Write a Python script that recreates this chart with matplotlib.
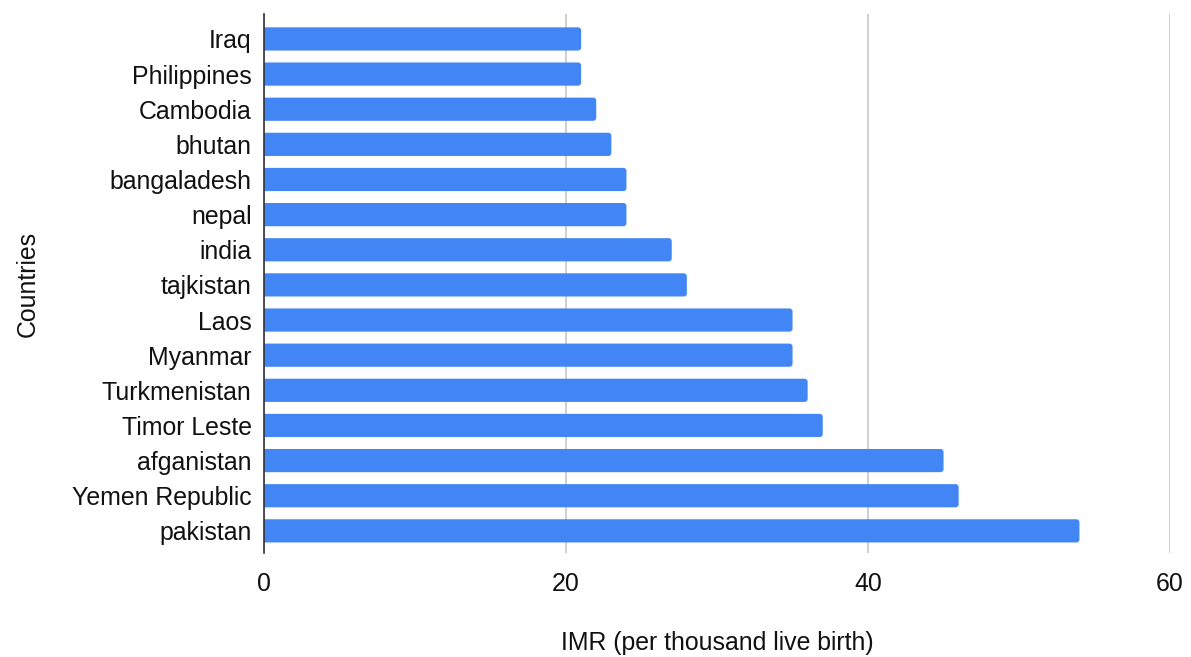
import matplotlib.pyplot as plt
from matplotlib.patches import FancyBboxPatch

plt.rcParams['font.family'] = ['Liberation Sans', 'DejaVu Sans']

# infant mortality rate per country, top to bottom
countries = ["Iraq", "Philippines", "Cambodia", "bhutan", "bangaladesh", "nepal",
             "india", "tajkistan", "Laos", "Myanmar", "Turkmenistan", "Timor Leste",
             "afganistan", "Yemen Republic", "pakistan"]
imr = [21, 21, 22, 23, 24, 24, 27, 28, 35, 35, 36, 37, 45, 46, 54]
x_ticks = [0, 20, 40, 60]

fig = plt.figure(figsize=(11.91, 6.57), dpi=100)
ax = fig.add_axes([0.2217, 0.1583, 0.7607, 0.8204])

ax.set_xlim(0, 60)
ax.set_ylim(14.63, -0.71)

# rounded bars; left side starts past the axis so only the right end is rounded
bar_h = 0.66
for i, v in enumerate(imr):
    p = FancyBboxPatch((-0.5, i - bar_h / 2), v + 0.5, bar_h,
                       boxstyle="round,pad=0,rounding_size=0.2",
                       mutation_aspect=0.43, facecolor="#4285f4",
                       edgecolor="none", zorder=2)
    ax.add_patch(p)

fs = 17.9
txt = "#111111"
ax.set_yticks(range(len(countries)))
ax.set_yticklabels(countries, fontsize=fs, color=txt)
ax.set_xticks(x_ticks)
ax.set_xticklabels([str(t) for t in x_ticks], fontsize=fs, color=txt)
ax.tick_params(length=0)
ax.tick_params(axis="y", pad=9)
ax.tick_params(axis="x", pad=14)

ax.grid(axis="x", color="#cccccc", linewidth=1.3, zorder=0)
for s in ["top", "right", "bottom"]:
    ax.spines[s].set_visible(False)
ax.spines["left"].set_color("#333333")
ax.spines["left"].set_linewidth(1.2)
ax.spines["left"].set_zorder(3)

ax.set_xlabel("IMR (per thousand live birth)", fontsize=fs, color=txt, labelpad=25)
ax.set_ylabel("Countries", fontsize=fs, color=txt, labelpad=23)

fig.savefig("out.png", dpi=100)
